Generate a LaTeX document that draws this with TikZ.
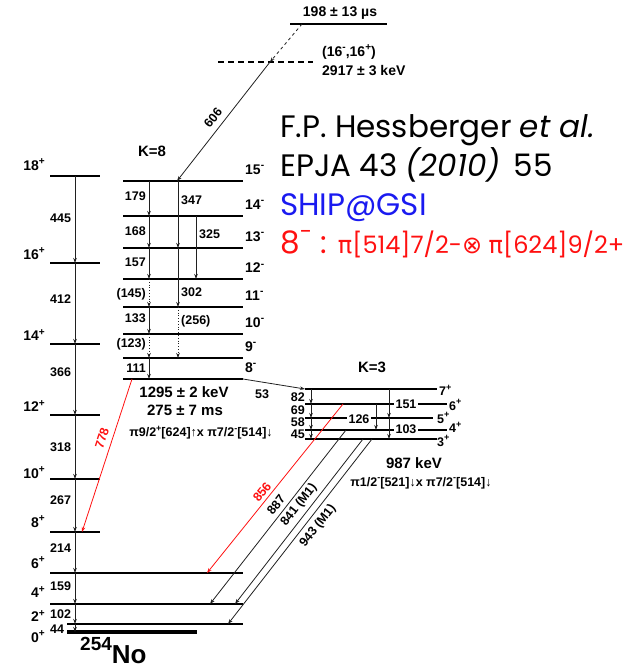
\documentclass[tikz,border=0pt]{standalone}
\usepackage{fontspec}
\setmainfont{Liberation Sans}
\newfontfamily\reffont{Poppins}
\newfontfamily\symfont{DejaVu Sans}
\usetikzlibrary{arrows.meta,positioning}
\definecolor{RefRed}{HTML}{FF1010}
\definecolor{RefBlue}{HTML}{1A1AF0}
\definecolor{GammaGray}{HTML}{202020}
\newcommand\spinsup[1]{\raisebox{0.42em}{\scalebox{0.72}{#1}}}

\tikzset{
  lvl/.style={line width=1.2pt},
  gam/.style={draw=GammaGray, line width=0.8pt, -{Stealth[length=5pt,width=3.5pt]}},
  trlab/.style={font=\bfseries\fontsize{12.5}{13}\selectfont, inner sep=0pt},
  spinlab/.style={font=\bfseries\fontsize{14}{14}\selectfont, inner sep=0pt},
  bandlab/.style={font=\bfseries\fontsize{15}{15}\selectfont, inner sep=0pt},
  conflab/.style={font=\bfseries\fontsize{12.5}{13}\selectfont, inner sep=0pt},
  reftxt/.style={font=\reffont\fontsize{31}{31}\selectfont, inner sep=0pt, anchor=base west}
}

\begin{document}
\begin{tikzpicture}[x=1pt,y=-1pt]
\useasboundingbox (0,0) rectangle (638,668);

\foreach \y in {176,263,344,415,479,532} \draw[lvl] (50,\y) -- (100,\y);
\foreach \y/\xa in {573/50,604/50,624/67} \draw[lvl] (\xa,\y) -- (243,\y);
\draw[line width=3.3pt] (67,632) -- (197,632);
\foreach \s/\y in {18/165,16/254,14/335,12/406,10/473,8/522,6/563,4/592,2/616,0/637}
  \node[spinlab, anchor=east] (gs\s) at (45,\y) {\s\spinsup{+}};
\foreach \ya/\yb/\e/\yl in {176/263/445/218,263/344/412/299,344/415/366/372,415/479/318/447,
    479/532/267/500,532/573/214/548,573/604/159/586,604/624/102/614,624/632/44/629}
{
  \draw[gam] (75,\ya) -- (75,\yb);
  \node[trlab, anchor=west] (ge\e) at (50,\yl) {\e};
}

\foreach \y in {181,216,248,279,307,334,358,379} \draw[lvl] (123,\y) -- (243,\y);
\foreach \s/\y in {15/181,14/216,13/248,12/279,11/307,10/334,9/358,8/379}
  \node[spinlab, anchor=west] (ks\s) at (245,\y-11) {\s\spinsup{-}};
\node[bandlab] (keight) at (152,151) {K=8};
\foreach \ya/\yb/\e/\yl [count=\i] in {181/216/179/196,216/248/168/231,248/279/157/262,
    307/334/133/318,358/379/111/368}
{
  \draw[gam] (149,\ya) -- (149,\yb);
  \node[trlab, anchor=east] (kc\i) at (146,\yl) {\e};
}
\foreach \ya/\yb/\e/\yl [count=\i] in {279/307/{(145)}/294,334/358/{(123)}/344}
{
  \draw[gam, dotted] (149,\ya) -- (149,\yb);
  \node[trlab, anchor=east] (kd\i) at (146,\yl) {\e};
}
\draw[gam] (178,181) -- (178,248);
\draw[gam] (178,248) -- (178,307);
\draw[gam, dotted] (178,307) -- (178,358);
\draw[gam] (196,216) -- (196,279);
\node[trlab, anchor=west] (kt347) at (181,200) {347};
\node[trlab, anchor=west] (kt302) at (181,292) {302};
\node[trlab, anchor=west] (kt256) at (181,321) {(256)};
\node[trlab, anchor=west] (kt325) at (199,234) {325};
\node[bandlab] (kenergy) at (184,392) {1295 ± 2 keV};
\node[bandlab] (klife) at (185,410) {275 ± 7 ms};
\node[conflab] (kconf) at (201,433)
  {π9/2\spinsup{+}[624]↑x π7/2\spinsup{-}[514]↓};

\draw[lvl] (290,24) -- (387,24);
\draw[lvl, dashed, dash pattern=on 6pt off 4pt] (218,62) -- (313,62);
\node[bandlab, font=\bfseries\fontsize{14}{14}\selectfont] (isolife) at (340,13) {198 ± 13 µs};
\node[bandlab, anchor=west, font=\bfseries\fontsize{14}{14}\selectfont] (isospin) at (322,52)
  {(16\spinsup{-},16\spinsup{+})};
\node[bandlab, anchor=west, font=\bfseries\fontsize{14}{14}\selectfont] (isoenergy) at (322,71)
  {2917 ± 3 keV};
\coordinate (isotop) at (302,24);
\coordinate (isolvl) at (270,62);
\coordinate (k15) at (177,181);
\draw[gam, dashed] (isotop) -- (isolvl);
\draw[gam] (isolvl) -- (k15);
\node[trlab, rotate=52] (t606) at (213,118) {606};

\draw[lvl] (305,389) -- (437,389);
\draw[lvl] (305,404) -- (447,404);
\draw[lvl] (305,418) -- (433,418);
\draw[lvl] (305,430) -- (447,430);
\draw[lvl] (305,439) -- (437,439);
\node[bandlab] (kthree) at (372,367) {K=3};
\foreach \ya/\yb/\e/\yl in {389/404/82/397,404/418/69/410,418/430/58/422,430/439/45/434}
{
  \draw[gam] (311,\ya) -- (311,\yb);
  \node[trlab, anchor=east] (kb\e) at (305,\yl) {\e};
}
\draw[gam] (376,404) -- (376,430);
\draw[gam] (389,389) -- (389,418);
\draw[gam] (389,418) -- (389,439);
\node[trlab, fill=white, inner sep=1.5pt] (kb126) at (359,419) {126};
\node[trlab, fill=white, inner sep=1.5pt] (kb151) at (406,404) {151};
\node[trlab, fill=white, inner sep=1.5pt] (kb103) at (406,429) {103};
\foreach \s/\x/\y in {7/439/390,6/449/405,5/437/418,4/449/427,3/437/441}
  \node[trlab, anchor=west] (kbs\s) at (\x,\y) {\s\spinsup{+}};
\node[bandlab] (kbenergy) at (414,463) {987 keV};
\node[conflab] (kbconf) at (421,483)
  {π1/2\spinsup{-}[521]↓x π7/2\spinsup{-}[514]↓};

\coordinate (k8r) at (243,379);
\coordinate (k3l) at (305,389);
\draw[gam] (k8r) -- (k3l);
\node[trlab] (t53) at (262,394) {53};

\coordinate (k8l) at (132,379);
\coordinate (g8) at (82,532);
\draw[gam, draw=RefRed] (k8l) -- (g8);
\node[trlab, text=RefRed, rotate=71.6] (t778) at (102,438) {778};

\coordinate (k6) at (343,404);
\coordinate (g6) at (207,573);
\draw[gam, draw=RefRed] (k6) -- (g6);
\node[trlab, text=RefRed, rotate=51] (t856) at (262,492) {856};

\coordinate (k4) at (346,430);
\coordinate (g4a) at (210,604);
\draw[gam] (k4) -- (g4a);
\node[trlab, rotate=52] (t887) at (276,505) {887};

\coordinate (k3a) at (363,439);
\coordinate (g4b) at (235,604);
\draw[gam] (k3a) -- (g4b);
\node[trlab, rotate=52] (t841) at (299,505) {841 (M1)};

\coordinate (k3b) at (372,439);
\coordinate (g2) at (228,624);
\draw[gam] (k3b) -- (g2);
\node[trlab, rotate=52] (t943) at (318,526) {943 (M1)};

\node[inner sep=0pt, anchor=base west, font=\bfseries\fontsize{26}{26}\selectfont] (nucleus) at (80,663)
  {\raisebox{0.5em}{\fontsize{19}{19}\selectfont 254}No};

\node[reftxt] (author) at (280,138) {F.P. Hessberger \textit{et al.}};
\node[reftxt] (journal) at (280,177) {EPJA 43 \textit{(2010)}\, 55};
\node[reftxt, text=RefBlue] (facility) at (280,215) {SHIP@GSI};
\node[reftxt, text=RefRed] (config) at (280,253)
  {8\spinsup{-} : {\fontsize{24}{24}\selectfont{\symfont π}[514]7/2-{\symfont ⊗} {\symfont π}[624]9/2+}};
\end{tikzpicture}
\end{document}
